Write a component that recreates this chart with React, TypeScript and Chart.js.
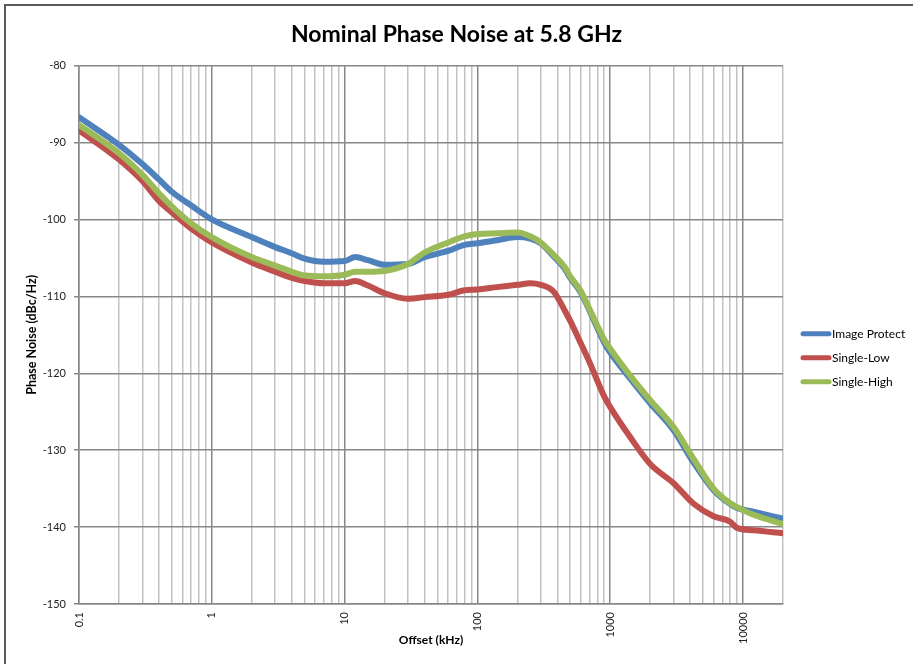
import React, { useEffect, useRef } from "react";
import { Chart, registerables } from "chart.js";

Chart.register(...registerables);

// ---- Data ----
const chartTitle = "Nominal Phase Noise at 5.8 GHz";
const xTitle = "Offset (kHz)";
const yTitle = "Phase Noise (dBc/Hz)";

const offsetsKHz = [
  0.1, 0.2, 0.3, 0.4, 0.5, 0.7, 1, 2, 3, 4, 5, 7, 10, 12, 15, 20, 30, 40, 60, 80,
  100, 140, 200, 250, 300, 375, 450, 500, 600, 700, 900, 1000, 1400, 2000, 3000,
  4200, 6000, 8000, 9000, 12000, 20000,
];

const imageProtect = [
  -86.7, -90.3, -92.8, -94.8, -96.4, -98.2, -100.0, -102.3, -103.6, -104.4, -105.1,
  -105.5, -105.4, -104.9, -105.3, -105.9, -105.8, -104.9, -104.1, -103.3, -103.1,
  -102.7, -102.3, -102.5, -103.1, -104.8, -106.3, -107.6, -109.5, -111.9, -116.0,
  -117.3, -120.6, -123.9, -127.4, -131.5, -135.2, -137.0, -137.5, -138.0, -138.9,
];

const singleLow = [
  -88.4, -92.2, -95.0, -97.6, -99.1, -101.2, -103.0, -105.6, -106.8, -107.6, -108.0,
  -108.3, -108.3, -108.0, -108.6, -109.6, -110.3, -110.1, -109.8, -109.2, -109.1,
  -108.8, -108.5, -108.3, -108.5, -109.4, -111.7, -113.2, -116.1, -118.6, -123.0,
  -124.4, -128.2, -131.8, -134.3, -136.9, -138.6, -139.3, -140.1, -140.4, -140.8,
];

const singleHigh = [
  -87.7, -91.4, -94.2, -96.6, -98.3, -100.5, -102.3, -104.9, -106.0, -106.8, -107.3,
  -107.4, -107.2, -106.8, -106.8, -106.7, -105.8, -104.3, -103.0, -102.2, -101.9,
  -101.8, -101.7, -102.2, -103.0, -104.6, -106.1, -107.4, -109.3, -111.7, -115.6,
  -116.8, -120.2, -123.5, -127.0, -131.0, -135.0, -136.9, -137.4, -138.4, -139.6,
];

const seriesNames = ["Image Protect", "Single-Low", "Single-High"];
const seriesColors = ["#4F81BD", "#C0504D", "#9BBB59"];

const xLabelValues = [0.1, 1, 10, 100, 1000, 10000];
const xGridMultipliers = [1, 2, 3, 4, 5, 6, 7, 8, 9];
const xMin = 0.1;
const xMax = 20000;
const yMin = -150;
const yMax = -80;
const yStep = 10;

const FONT = "Lato, 'Open Sans', 'Liberation Sans', sans-serif";
const MAJOR_GRID = "#878787";
const MINOR_GRID = "#c2c2c2";

export default function App() {
  const canvasRef = useRef<HTMLCanvasElement | null>(null);

  useEffect(() => {
    if (!canvasRef.current) return;

    const gridValues: number[] = [];
    for (const d of xLabelValues) {
      for (const m of xGridMultipliers) {
        const v = +(d * m).toPrecision(6);
        if (v <= xMax) gridValues.push(v);
      }
    }
    if (gridValues[gridValues.length - 1] !== xMax) gridValues.push(xMax);
    const isLabeled = (v: number) => xLabelValues.some((l) => Math.abs(l - v) < l * 1e-6);

    const seriesValues = [imageProtect, singleLow, singleHigh];
    const drawOrder = [2, 1, 0];

    const framePlugin = {
      id: "frame",
      beforeDraw(chart: any) {
        const { ctx, width, height } = chart;
        ctx.save();
        ctx.fillStyle = "#ffffff";
        ctx.fillRect(0, 0, width, height);
        ctx.strokeStyle = "#5a5a5a";
        ctx.lineWidth = 2;
        ctx.beginPath();
        ctx.moveTo(5, height);
        ctx.lineTo(5, 5);
        ctx.lineTo(width, 5);
        ctx.stroke();
        ctx.restore();
      },
    };

    const legendPlugin = {
      id: "sideLegend",
      afterDraw(chart: any) {
        const { ctx, chartArea } = chart;
        const x0 = chartArea.right + 20;
        const x1 = x0 + 26;
        const spacing = 24;
        const yStart = (chartArea.top + chartArea.bottom) / 2 - 1;
        ctx.save();
        chart.data.datasets.forEach((ds: any, i: number) => {
          const y = yStart + i * spacing;
          ctx.strokeStyle = ds.borderColor;
          ctx.lineWidth = 5;
          ctx.lineCap = "round";
          ctx.beginPath();
          ctx.moveTo(x0, y);
          ctx.lineTo(x1, y);
          ctx.stroke();
          ctx.fillStyle = "#000000";
          ctx.font = `12px ${FONT}`;
          ctx.textBaseline = "middle";
          ctx.textAlign = "left";
          ctx.fillText(ds.label, x1 + 3, y);
        });
        ctx.restore();
      },
    };

    const chart = new Chart(canvasRef.current, {
      type: "line",
      data: {
        datasets: seriesNames.map((name, i) => ({
          label: name,
          data: offsetsKHz.map((x, j) => ({ x, y: seriesValues[i][j] })),
          borderColor: seriesColors[i],
          backgroundColor: seriesColors[i],
          borderWidth: 6,
          pointRadius: 0,
          pointHoverRadius: 0,
          fill: false,
          cubicInterpolationMode: "monotone" as const,
          borderCapStyle: "round" as const,
          borderJoinStyle: "round" as const,
          order: drawOrder[i],
        })),
      },
      options: {
        responsive: false,
        animation: false,
        devicePixelRatio: 1,
        layout: { padding: 0 },
        plugins: {
          legend: { display: false },
          tooltip: { enabled: false },
          title: {
            display: true,
            text: chartTitle,
            color: "#000000",
            font: { family: FONT, size: 23, weight: "bold" },
            padding: { top: 21, bottom: 17 },
          },
        },
        scales: {
          x: {
            type: "logarithmic",
            position: "bottom",
            min: xMin,
            max: xMax,
            afterBuildTicks: (scale: any) => {
              scale.ticks = gridValues.map((v) => ({ value: v, major: isLabeled(v) }));
            },
            afterFit: (scale: any) => {
              scale.height = 60;
            },
            grid: {
              color: (ctx: any) =>
                ctx.tick && isLabeled(ctx.tick.value) ? MAJOR_GRID : MINOR_GRID,
              lineWidth: 1.5,
              drawTicks: false,
            },
            border: { color: MAJOR_GRID, width: 1.5 },
            ticks: {
              autoSkip: false,
              minRotation: 90,
              maxRotation: 90,
              padding: 8,
              color: "#222222",
              font: { family: FONT, size: 11 },
              callback: (v: any) => (isLabeled(Number(v)) ? String(Number(v)) : ""),
            },
            title: {
              display: true,
              text: xTitle,
              color: "#000000",
              font: { family: FONT, size: 12, weight: "bold" },
              padding: { top: 0, bottom: 17 },
            },
          },
          y: {
            type: "linear",
            position: "left",
            min: yMin,
            max: yMax,
            afterFit: (scale: any) => {
              scale.width = 79;
            },
            grid: { color: MAJOR_GRID, lineWidth: 1.5, tickLength: 5 },
            border: { color: MAJOR_GRID, width: 1.5 },
            ticks: {
              stepSize: yStep,
              padding: 8,
              color: "#222222",
              font: { family: FONT, size: 11 },
            },
            title: {
              display: true,
              text: yTitle,
              color: "#000000",
              font: { family: FONT, size: 12.5, weight: "bold" },
              padding: { top: 24, bottom: 0 },
            },
          },
          legendSpace: {
            type: "linear",
            position: "right",
            display: true,
            afterFit: (scale: any) => {
              scale.width = 130;
            },
            grid: { display: false, drawTicks: false },
            border: { display: false },
            ticks: { display: false },
          },
        },
      },
      plugins: [framePlugin, legendPlugin],
    } as any);

    return () => chart.destroy();
  }, []);

  return (
    <div style={{ position: "fixed", left: 0, top: 0, width: 913, height: 664 }}>
      <canvas ref={canvasRef} width={913} height={664} style={{ width: 913, height: 664, display: "block" }} />
    </div>
  );
}
